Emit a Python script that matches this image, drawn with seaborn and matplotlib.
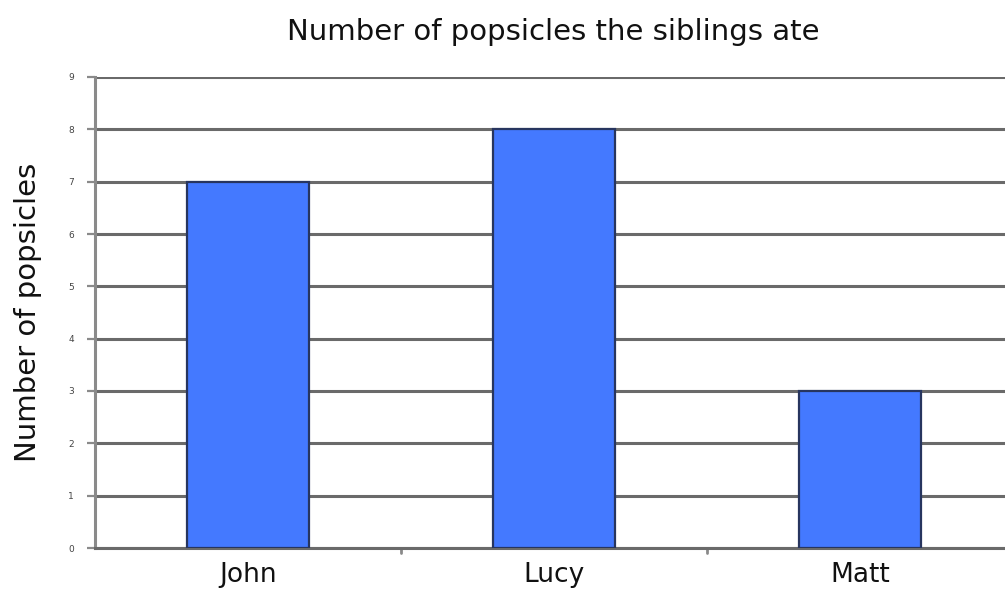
import matplotlib
matplotlib.use("Agg")
import matplotlib.pyplot as plt
import seaborn as sns
import pandas as pd

siblings = ["John", "Lucy", "Matt"]
popsicles = [7, 8, 3]
y_ticks = list(range(0, 10))

sns.set_theme(style="white")
plt.rcParams["font.family"] = ["DejaVu Sans"]

df = pd.DataFrame({"sibling": siblings, "popsicles": popsicles})

fig = plt.figure(figsize=(10.05, 5.92), dpi=100)
ax = fig.add_axes([95 / 1005, 1 - 548 / 592, 918 / 1005, (548 - 77) / 592])

sns.barplot(data=df, x="sibling", y="popsicles", ax=ax, color="#4479ff",
            width=0.4, edgecolor="#27355f", linewidth=1.6, saturation=1, zorder=3)

ax.set_ylim(0, 9)
ax.set_xlim(-0.5, 2.5)
ax.set_yticks(y_ticks)
ax.set_yticklabels([str(t) for t in y_ticks], fontsize=6.5, color="#444444")
ax.yaxis.grid(True, color="#6a6a6a", linewidth=2.2, zorder=0)
ax.set_axisbelow(True)

ax.set_xticks([0, 1, 2])
ax.set_xticklabels(siblings, fontsize=19, color="#111111")
ax.tick_params(axis="x", length=0, pad=10)
ax.tick_params(axis="y", length=6, width=1.6, color="#8a8a8a", pad=9, left=True)
# small separators between categories
for xb in [0.5, 1.5]:
    ax.plot([xb, xb], [0, -0.09], color="#8a8a8a", linewidth=2, clip_on=False, zorder=1)

for s in ["top", "right"]:
    ax.spines[s].set_visible(False)
ax.spines["left"].set_color("#8a8a8a")
ax.spines["left"].set_linewidth(2.2)
ax.spines["bottom"].set_color("#6a6a6a")
ax.spines["bottom"].set_linewidth(2.2)

ax.set_xlabel("")
ax.set_ylabel("Number of popsicles", fontsize=21, color="#111111", labelpad=19)
fig.text(553 / 1005, 1 - 32 / 592, "Number of popsicles the siblings ate",
         ha="center", va="center", fontsize=21, color="#111111")

fig.savefig("out.png", dpi=100, facecolor="white")
